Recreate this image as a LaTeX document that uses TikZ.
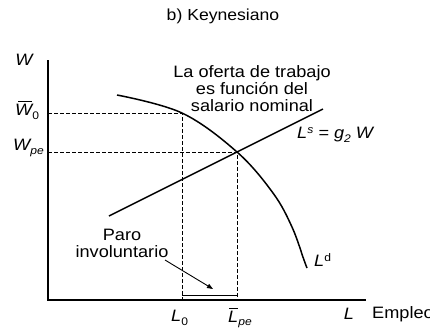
\documentclass[tikz,border=0pt]{standalone}
\usepackage{fontspec}
\setmainfont[FakeStretch=1.1]{Liberation Sans}
\usetikzlibrary{arrows.meta,calc}
\newcommand\mybar[3]{\leavevmode\rlap{\hspace{#1}\raisebox{13.5bp}{\rule{#2}{1.1bp}}}#3}
\newcommand\mysub[1]{\raisebox{-3.5bp}{\fontsize{11bp}{12bp}\selectfont #1}}
\begin{document}
\begin{tikzpicture}[x=1bp,y=-1bp,
  lbl/.style={inner sep=0pt,font=\fontsize{16.5bp}{17bp}\selectfont},
  axis/.style={line width=1.4bp},
  curve/.style={line width=1.5bp},
  guide/.style={line width=0.9bp,dash pattern=on 3.5bp off 2.5bp}]
\clip (0,0) rectangle (430,328);
\fill[white] (0,0) rectangle (430,328);
% title
\node[lbl,font=\fontsize{16bp}{17bp}\selectfont] (title) at (223,16) {b) Keynesiano};
% axes
\coordinate (O) at (48,300);
\coordinate (ytop) at (48,60);
\coordinate (xend) at (366,300);
\draw[axis] (ytop) -- (O) -- (xend);
% axis labels
\node[lbl] (W) at (24,60) {\itshape W};
\node[lbl,anchor=west] (W0) at (15,110) {\itshape\mybar{3bp}{14bp}{W}\upshape\mysub{0}};
\node[lbl,anchor=west] (Wpe) at (13,148) {\itshape W\mysub{pe}};
\node[lbl,anchor=west] (L0) at (171,318) {\itshape L\upshape\mysub{0}};
\node[lbl,anchor=west] (Lpe) at (228,318) {\itshape\mybar{1bp}{9bp}{L}\mysub{pe}};
\node[lbl] (L) at (349,314) {\itshape L};
\node[lbl,anchor=west] (Emp) at (372,314) {Empleo};
% key points
\coordinate (A) at (182,113);
\coordinate (E) at (237,152);
\coordinate (Ay) at (48,113);
\coordinate (Ey) at (48,152);
\coordinate (Ax) at (182,300);
\coordinate (Ex) at (237,300);
% guides
\draw[guide] (Ay) -- (A) -- (Ax);
\draw[guide] (Ey) -- (E) -- (Ex);
% demand curve
\draw[curve] plot[smooth,tension=0.6] coordinates {(117,95) (182,113) (237,152) (273,193) (292,227) (304,260) (307,268)};
\node[lbl,anchor=west] (Ld) at (314,260) {\itshape L\raisebox{5bp}{\upshape\fontsize{11bp}{12bp}\selectfont d}};
% supply line
\coordinate (s1) at (109,216);
\coordinate (s2) at (323,109);
\draw[curve] (s1) -- (s2);
\node[lbl,anchor=west] (Ls) at (297,135) {\itshape L\raisebox{5bp}{\fontsize{11bp}{12bp}\selectfont s} = g\mysub{2} W};
% text block
\node[lbl,align=center] (txt) at (252,89) {La oferta de trabajo\\es función del\\salario nominal};
% unemployment
\node[lbl,align=center] (paro) at (122,243) {Paro\\involuntario};
\coordinate (arr) at (213,289);
\draw[line width=0.9bp,-{Triangle[length=6bp,width=4.5bp]}] (165,260) -- (arr);
\draw[line width=1.1bp] ($(Ax)+(0,-4.5)$) -- ($(Ex)+(0,-4.5)$);
\end{tikzpicture}
\end{document}
